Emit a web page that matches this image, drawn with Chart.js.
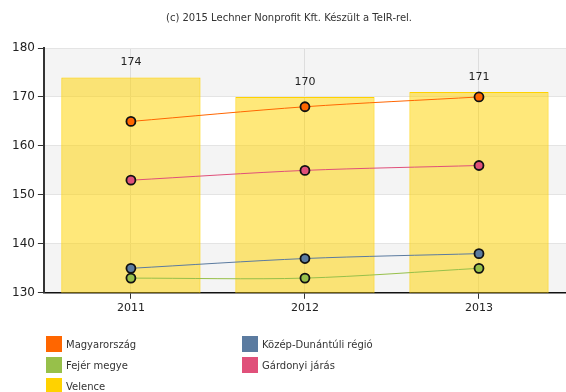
<!DOCTYPE html>
<html>
<head>
<meta charset="utf-8">
<script src="https://cdn.jsdelivr.net/npm/chart.js@4/dist/chart.umd.min.js"></script>
<style>
  body { margin: 0; background: #fff; }
  #wrap { position: relative; width: 566px; height: 392px; }
  #legend {
    position: absolute; left: 46px; top: 336px;
    display: grid; grid-template-columns: 196px 196px; row-gap: 5px;
    font: 10px "DejaVu Sans", sans-serif; color: #333;
  }
  .item { display: flex; align-items: center; height: 16px; }
  .box { width: 16px; height: 16px; margin-right: 4px; }
</style>
</head>
<body>
<div id="wrap">
  <canvas id="chart" width="566" height="392"></canvas>
  <div id="legend"></div>
</div>
<script>
// Years and values
const years = ["2011", "2012", "2013"];
const magyarorszag = [165, 168, 170];
const kozepDunantul = [135, 137, 138];
const fejer = [133, 133, 135];
const gardonyi = [153, 155, 156];
const velence = [174, 170, 171];

const colors = {
  magyarorszag: "#FF6600",
  kozep: "#5B7BA0",
  fejer: "#97C04A",
  gardonyi: "#E0507A",
  velence: "#FFD200"
};

function lineSet(label, data, color) {
  return {
    type: "line",
    label: label,
    data: data,
    borderColor: color,
    backgroundColor: color,
    borderWidth: 1,
    tension: 0.3,
    pointRadius: 4.5,
    pointBorderWidth: 1.8,
    pointBorderColor: "#111",
    pointBackgroundColor: color
  };
}

// Grey bands between every other pair of y ticks
const bandsPlugin = {
  id: "bands",
  beforeDraw(chart) {
    const { ctx, chartArea, scales } = chart;
    const y = scales.y;
    ctx.save();
    ctx.fillStyle = "#F4F4F4";
    [[170, 180], [150, 160], [130, 140]].forEach(([lo, hi]) => {
      const top = y.getPixelForValue(hi);
      const bottom = y.getPixelForValue(lo);
      ctx.fillRect(chartArea.left, top, chartArea.right - chartArea.left, bottom - top);
    });
    ctx.restore();
  }
};

// Value labels above the bars
const barLabels = {
  id: "barLabels",
  afterDatasetsDraw(chart) {
    const ctx = chart.ctx;
    chart.data.datasets.forEach((ds, i) => {
      if (ds.type !== "bar") return;
      chart.getDatasetMeta(i).data.forEach((bar, j) => {
        ctx.save();
        ctx.font = '11px "DejaVu Sans", sans-serif';
        ctx.fillStyle = "#222";
        ctx.textAlign = "center";
        ctx.textBaseline = "middle";
        ctx.fillText(ds.data[j], bar.x, bar.y - 15);
        ctx.restore();
      });
    });
  }
};

const datasets = [
  lineSet("Magyarország", magyarorszag, colors.magyarorszag),
  lineSet("Közép-Dunántúli régió", kozepDunantul, colors.kozep),
  lineSet("Fejér megye", fejer, colors.fejer),
  lineSet("Gárdonyi járás", gardonyi, colors.gardonyi),
  {
    type: "bar",
    label: "Velence",
    data: velence,
    backgroundColor: "rgba(255, 210, 0, 0.52)",
    borderColor: colors.velence,
    borderWidth: 1,
    categoryPercentage: 0.8,
    barPercentage: 1
  }
];

const chart = new Chart(document.getElementById("chart"), {
  data: { labels: years, datasets: datasets },
  options: {
    responsive: false,
    animation: false,
    layout: { autoPadding: false, padding: { left: 9, right: -3, bottom: 74 } },
    plugins: {
      legend: { display: false },
      tooltip: { enabled: false },
      title: {
        display: true,
        text: "(c) 2015 Lechner Nonprofit Kft. Készült a TeIR-rel.",
        color: "#333",
        font: { family: "DejaVu Sans", size: 10, weight: "normal" },
        padding: { top: 12, bottom: 24 }
      }
    },
    scales: {
      x: {
        grid: { offset: false, color: "#DDDDDD", tickColor: "#333", tickLength: 6 },
        border: { color: "#111", width: 1.5 },
        ticks: { color: "#222", font: { family: "DejaVu Sans", size: 11 } }
      },
      y: {
        min: 130,
        max: 180,
        ticks: { stepSize: 10, color: "#222", padding: 3, font: { family: "DejaVu Sans", size: 12 } },
        grid: { color: "#E4E4E4", tickColor: "#333", tickLength: 6 },
        border: { color: "#333", width: 2 }
      }
    }
  },
  plugins: [bandsPlugin, barLabels]
});

// Legend in two columns
const legend = document.getElementById("legend");
chart.data.datasets.forEach(ds => {
  const item = document.createElement("div");
  item.className = "item";
  const box = document.createElement("span");
  box.className = "box";
  box.style.background = ds.borderColor;
  item.appendChild(box);
  item.appendChild(document.createTextNode(ds.label));
  legend.appendChild(item);
});
</script>
</body>
</html>
